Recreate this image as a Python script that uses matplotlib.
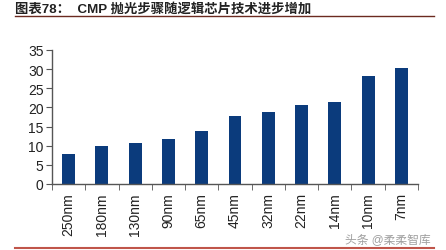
import matplotlib.pyplot as plt
import numpy as np

nodes = ["250nm", "180nm", "130nm", "90nm", "65nm", "45nm", "32nm", "22nm", "14nm", "10nm", "7nm"]
steps = [7.8, 9.9, 10.8, 11.8, 13.9, 17.8, 18.8, 20.5, 21.5, 28.1, 30.2]
yticks = [0, 5, 10, 15, 20, 25, 30, 35]

plt.rcParams['font.family'] = ['Liberation Sans', 'Noto Sans CJK SC', 'DejaVu Sans']

fig = plt.figure(figsize=(4.46, 2.51), dpi=100)
ax = fig.add_axes([0.1166, 0.263, 0.8206, 0.534])

x = np.arange(len(nodes))
ax.bar(x, steps, width=0.39, color='#0b3b7c')

ax.set_xlim(-0.5, len(nodes) - 0.5)
ax.set_ylim(0, 35)
ax.set_yticks(yticks)
ax.set_xticks(x)
ax.set_xticklabels(nodes, rotation=90, fontsize=10, color='#222222')
ax.set_xticks(np.arange(len(nodes) + 1) - 0.5, minor=True)
ax.tick_params(axis='x', which='major', length=0, pad=6)
ax.tick_params(axis='x', which='minor', length=4, color='#555555', direction='out')
ax.tick_params(axis='y', length=4, color='#555555', labelsize=10, labelcolor='#222222', pad=2)

for s in ['top', 'right']:
    ax.spines[s].set_visible(False)
for s in ['left', 'bottom']:
    ax.spines[s].set_color('#555555')
    ax.spines[s].set_linewidth(1.0)

fig.text(0.034, 0.962, "图表78：  CMP 抛光步骤随逻辑芯片技术进步增加",
         fontsize=9.6, fontweight='bold', color='#222222', va='center', ha='left')
fig.add_artist(plt.Line2D([0.034, 0.972], [0.934, 0.934], color='#6b2a20', lw=1.0))
fig.add_artist(plt.Line2D([0.034, 0.972], [0.008, 0.008], color='#c0554a', lw=1.5))

fig.text(0.965, 0.045, "头条 @柔柔智库", fontsize=8.5, color='#888888', alpha=0.8,
         ha='right', va='center')

fig.savefig('out.png', dpi=100)
